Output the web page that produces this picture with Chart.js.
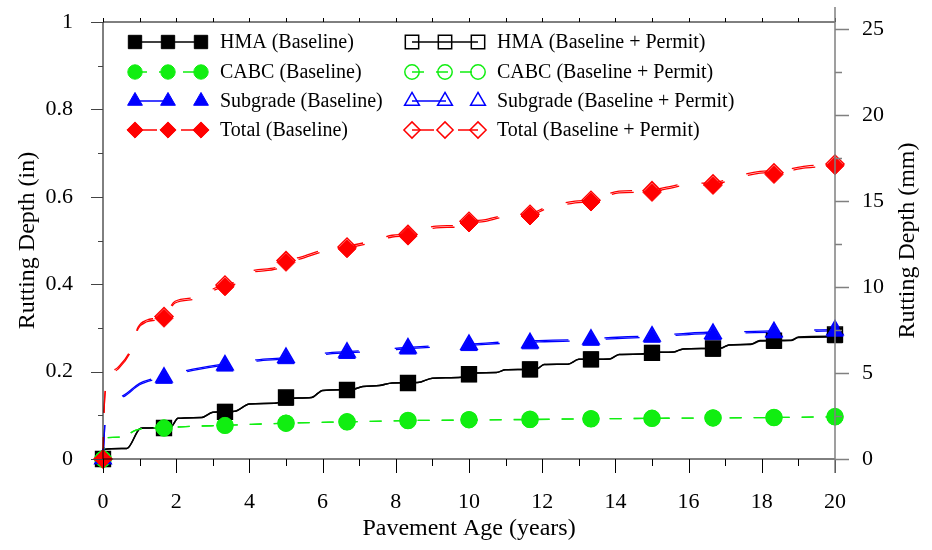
<!DOCTYPE html>
<html>
<head>
<meta charset="utf-8">
<script src="https://cdn.jsdelivr.net/npm/chart.js@4.4.0/dist/chart.umd.min.js"></script>
<style>
  html, body { margin: 0; padding: 0; background: #fff; }
  #wrap { width: 932px; height: 550px; }
</style>
</head>
<body>
<div id="wrap"><canvas id="myChart" width="932" height="550"></canvas></div>
<script>
// marker positions (pavement age, years)
var markerAge = [0, 1.667, 3.333, 5, 6.667, 8.333, 10, 11.667, 13.333, 15, 16.667, 18.333, 20];
var hmaBaseline = [0, 0.071, 0.108, 0.140, 0.158, 0.174, 0.194, 0.205, 0.228, 0.243, 0.252, 0.270, 0.283];
var hmaPermit = [0, 0.071, 0.108, 0.141, 0.158, 0.174, 0.194, 0.205, 0.228, 0.243, 0.253, 0.271, 0.285];
var cabcBaseline = [0, 0.071, 0.077, 0.082, 0.085, 0.088, 0.090, 0.090, 0.092, 0.093, 0.094, 0.095, 0.096];
var cabcPermit = [0, 0.071, 0.077, 0.082, 0.085, 0.088, 0.090, 0.091, 0.092, 0.093, 0.094, 0.095, 0.097];
var subgradeBaseline = [0, 0.184, 0.212, 0.229, 0.241, 0.251, 0.259, 0.263, 0.271, 0.278, 0.284, 0.288, 0.292];
var subgradePermit = [0, 0.187, 0.215, 0.232, 0.244, 0.254, 0.262, 0.266, 0.274, 0.281, 0.287, 0.291, 0.295];
var totalBaseline = [0, 0.322, 0.394, 0.450, 0.481, 0.510, 0.540, 0.556, 0.588, 0.610, 0.626, 0.651, 0.671];
var totalPermit = [0, 0.326, 0.398, 0.454, 0.485, 0.514, 0.544, 0.560, 0.592, 0.614, 0.630, 0.655, 0.675];

// the curves
var hmaAge = [0,0.03,0.65,1.0,1.1,1.85,2.05,2.7,3.0,3.6,4.0,4.75,5.05,5.7,6.0,6.8,7.1,7.55,7.9,8.6,9.0,9.8,10.1,10.75,11.0,11.85,12.05,12.7,13.0,13.85,14.1,14.7,15.0,15.6,15.85,16.9,17.1,17.7,17.95,18.8,19.0,20];
var hmaLineBaseline = [0,0.022,0.024,0.069,0.071,0.073,0.093,0.095,0.107,0.109,0.126,0.128,0.139,0.141,0.157,0.159,0.166,0.168,0.174,0.175,0.185,0.187,0.197,0.198,0.204,0.206,0.216,0.217,0.228,0.229,0.239,0.240,0.244,0.245,0.252,0.254,0.261,0.262,0.270,0.271,0.278,0.279];
var hmaLinePermit = [0,0.022,0.024,0.069,0.071,0.073,0.093,0.095,0.107,0.109,0.126,0.128,0.139,0.141,0.157,0.159,0.166,0.168,0.174,0.175,0.185,0.187,0.197,0.198,0.204,0.206,0.216,0.217,0.228,0.229,0.239,0.240,0.244,0.245,0.252,0.254,0.261,0.263,0.271,0.272,0.279,0.281];

var cabcAge = [0,0.05,0.5,0.9,1.2,1.667,2.5,3.333,5,6.667,8.333,10,11.667,13.333,15,16.667,18.333,20];
var cabcLineBaseline = [0,0.048,0.050,0.066,0.071,0.072,0.075,0.077,0.082,0.085,0.088,0.089,0.090,0.092,0.093,0.094,0.095,0.096];
var cabcLinePermit = [0,0.048,0.050,0.066,0.071,0.072,0.075,0.077,0.082,0.085,0.088,0.089,0.091,0.092,0.093,0.094,0.095,0.097];

var subAge = [0,0.02,0.06,0.55,1.0,1.37,1.667,2.3,3.2,4.2,5.0,6.15,7.07,8.1,9.0,10.0,11.0,11.9,12.8,13.9,14.9,15.85,16.5,17.8,18.7,20];
var subLineBaseline = [0,0.030,0.085,0.142,0.170,0.181,0.186,0.200,0.213,0.224,0.229,0.240,0.245,0.251,0.256,0.260,0.265,0.268,0.270,0.275,0.279,0.284,0.287,0.289,0.291,0.293];
var subLinePermit = [0,0.031,0.087,0.145,0.173,0.184,0.189,0.203,0.216,0.227,0.232,0.243,0.248,0.254,0.259,0.263,0.268,0.271,0.273,0.278,0.282,0.287,0.290,0.292,0.294,0.296];

var totalAge = [0,0.03,0.12,0.4,0.75,0.96,1.2,1.45,1.667,1.97,2.54,3.0,3.333,3.74,4.0,4.75,5.0,5.4,6.0,6.667,7.3,7.9,8.333,9.1,9.75,10.1,10.4,11.0,11.667,12.1,12.9,13.333,14.1,14.9,15.4,16.0,16.667,17.3,17.95,18.55,19.2,20];
var totalLineBaseline = [0,0.110,0.175,0.205,0.245,0.298,0.314,0.318,0.323,0.357,0.366,0.385,0.395,0.405,0.425,0.435,0.450,0.458,0.474,0.483,0.494,0.508,0.511,0.529,0.531,0.541,0.543,0.554,0.557,0.572,0.586,0.589,0.609,0.611,0.618,0.627,0.628,0.643,0.654,0.657,0.666,0.671];
var totalLinePermit = [0,0.112,0.178,0.209,0.249,0.302,0.318,0.322,0.327,0.361,0.370,0.389,0.399,0.409,0.429,0.439,0.454,0.462,0.478,0.487,0.498,0.512,0.515,0.533,0.535,0.545,0.547,0.558,0.561,0.576,0.590,0.593,0.613,0.615,0.622,0.631,0.632,0.647,0.658,0.661,0.670,0.675];

var xTicks = [0, 2, 4, 6, 8, 10, 12, 14, 16, 18, 20];

var FONT = "'Liberation Serif', 'Times New Roman', serif";
var RED = '#ff0000', BLUE = '#0000ff', GREEN = '#11ee11', BLACK = '#000000';

// style per series: [color, pointStyle, radius, dash]
var styles = {
  hma: [BLACK, 'rect', 10.5, []],
  cabc: [GREEN, 'circle', 8, [12, 12]],
  sub: [BLUE, 'triangle', 9.5, [34, 36]],
  total: [RED, 'rectRot', 9, [22, 24]]
};

function pts(xs, ys) {
  return xs.map(function (x, i) { return {x: x, y: ys[i]}; });
}

function lineSet(xs, ys, key, order) {
  var s = styles[key];
  return {
    data: pts(xs, ys), showLine: true, pointRadius: 0, borderColor: s[0],
    borderWidth: key == 'hma' ? 1.5 : 1.3, borderDash: s[3],
    cubicInterpolationMode: 'monotone', clip: false, order: order
  };
}

function markerSet(ys, key, filled, order) {
  var s = styles[key];
  return {
    data: pts(markerAge, ys), showLine: false, pointStyle: s[1], pointRadius: s[2],
    pointBackgroundColor: filled ? s[0] : 'rgba(0,0,0,0)', pointBorderColor: s[0],
    pointBorderWidth: filled ? 1 : 1.5, clip: false, order: order
  };
}

// no extra room for half tick labels, the chart area is set by hand
function noPad(s) {
  s.paddingTop = 0; s.paddingBottom = 0; s.paddingLeft = 0; s.paddingRight = 0;
}

var legendRows = [
  ['HMA (Baseline)', 'hma', true, 0, 0],
  ['CABC (Baseline)', 'cabc', true, 0, 1],
  ['Subgrade (Baseline)', 'sub', true, 0, 2],
  ['Total (Baseline)', 'total', true, 0, 3],
  ['HMA (Baseline + Permit)', 'hma', false, 1, 0],
  ['CABC (Baseline + Permit)', 'cabc', false, 1, 1],
  ['Subgrade (Baseline + Permit)', 'sub', false, 1, 2],
  ['Total (Baseline + Permit)', 'total', false, 1, 3]
];

var drawLegendAndFrame = {
  id: 'legendFrame',
  afterDatasetsDraw: function (chart) {
    var ctx = chart.ctx, a = chart.chartArea;
    var xs = chart.scales.x, ys = chart.scales.y, y2 = chart.scales.y2;
    ctx.save();
    ctx.setLineDash([]);
    ctx.lineWidth = 1;
    // top + bottom + left in black
    ctx.strokeStyle = '#000';
    ctx.beginPath();
    ctx.moveTo(a.left, a.top); ctx.lineTo(a.right, a.top);
    ctx.moveTo(a.left, a.bottom); ctx.lineTo(a.right, a.bottom);
    ctx.moveTo(a.left, a.top); ctx.lineTo(a.left, a.bottom);
    for (var v = 0; v <= 20; v++) {
      var px = Math.round(xs.getPixelForValue(v)) + 0.5;
      ctx.moveTo(px, a.bottom); ctx.lineTo(px, a.bottom + (v % 2 == 0 ? 14 : 7));
      ctx.moveTo(px, a.top); ctx.lineTo(px, a.top - 4);
    }
    ctx.stroke();
    ctx.strokeStyle = '#444';
    ctx.beginPath();
    for (var k = 0; k <= 10; k++) {
      var py = Math.round(ys.getPixelForValue(k / 10)) + 0.5;
      ctx.moveTo(a.left, py); ctx.lineTo(a.left - (k % 2 == 0 ? 12 : 5), py);
    }
    ctx.stroke();
    // right axis in gray
    ctx.strokeStyle = '#808080';
    ctx.lineWidth = 1.5;
    ctx.beginPath();
    ctx.moveTo(a.right, a.top - 15); ctx.lineTo(a.right, a.bottom + 14);
    for (var m = 0; m <= 10; m++) {
      var py2 = Math.round(y2.getPixelForValue(m * 2.5)) + 0.5;
      ctx.moveTo(a.right, py2); ctx.lineTo(a.right + (m % 2 == 0 ? 14 : 7), py2);
    }
    ctx.stroke();

    // right title, reading upward like the left one
    ctx.fillStyle = '#000';
    ctx.font = '24px ' + FONT;
    ctx.textAlign = 'center';
    ctx.textBaseline = 'middle';
    ctx.translate(908, (a.top + a.bottom) / 2);
    ctx.rotate(-Math.PI / 2);
    ctx.fillText('Rutting Depth (mm)', 0, 0);
    ctx.restore();

    // legend
    ctx.save();
    var rowY = [42, 72, 101, 130];
    var colMarks = [[135, 168, 201], [412, 445, 478]];
    var colText = [220, 497];
    legendRows.forEach(function (r) {
      var s = styles[r[1]], mx = colMarks[r[3]], y = rowY[r[4]];
      ctx.strokeStyle = s[0];
      ctx.lineWidth = r[1] == 'hma' ? 1.5 : 1.3;
      ctx.setLineDash(s[3]);
      ctx.beginPath();
      ctx.moveTo(mx[0], y); ctx.lineTo(mx[2], y);
      ctx.stroke();
      ctx.setLineDash([]);
      mx.forEach(function (x) {
        ctx.fillStyle = r[2] ? s[0] : 'rgba(0,0,0,0)';
        ctx.lineWidth = r[2] ? 1 : 1.5;
        Chart.helpers.drawPoint(ctx, {pointStyle: s[1], radius: s[2] * 0.9, rotation: 0, borderWidth: ctx.lineWidth}, x, y);
      });
      ctx.fillStyle = '#000';
      ctx.font = '20px ' + FONT;
      ctx.textAlign = 'left';
      ctx.textBaseline = 'middle';
      ctx.fillText(r[0], colText[r[3]], y + 1);
    });
    ctx.restore();
  }
};

Chart.defaults.font.family = FONT;
Chart.defaults.color = '#000';

var ctx = document.getElementById('myChart').getContext('2d');
var myChart = new Chart(ctx, {
  type: 'scatter',
  data: {
    datasets: [
      lineSet(hmaAge, hmaLinePermit, 'hma', 20),
      lineSet(hmaAge, hmaLineBaseline, 'hma', 19),
      lineSet(cabcAge, cabcLinePermit, 'cabc', 18),
      lineSet(cabcAge, cabcLineBaseline, 'cabc', 17),
      lineSet(subAge, subLinePermit, 'sub', 16),
      lineSet(subAge, subLineBaseline, 'sub', 15),
      lineSet(totalAge, totalLinePermit, 'total', 14),
      lineSet(totalAge, totalLineBaseline, 'total', 13),
      markerSet(hmaPermit, 'hma', false, 8),
      markerSet(cabcPermit, 'cabc', false, 7),
      markerSet(subgradePermit, 'sub', false, 6),
      markerSet(totalPermit, 'total', false, 5),
      markerSet(hmaBaseline, 'hma', true, 4),
      markerSet(cabcBaseline, 'cabc', true, 3),
      markerSet(subgradeBaseline, 'sub', true, 2),
      markerSet(totalBaseline, 'total', true, 1)
    ]
  },
  options: {
    responsive: false,
    animation: false,
    events: [],
    layout: {padding: {top: 22, left: 0, right: 0, bottom: 0}},
    plugins: {legend: {display: false}, tooltip: {enabled: false}},
    scales: {
      x: {
        type: 'linear', min: 0, max: 20,
        afterFit: function (s) { s.height = 91; noPad(s); },
        afterBuildTicks: function (s) { s.ticks = xTicks.map(function (v) { return {value: v}; }); },
        grid: {display: false, drawTicks: false}, border: {display: false},
        ticks: {font: {size: 22}, padding: 30, maxRotation: 0},
        title: {display: true, text: 'Pavement Age (years)', font: {size: 24}, padding: {top: 0, bottom: 7}}
      },
      y: {
        type: 'linear', position: 'left', min: 0, max: 1,
        afterFit: function (s) { s.width = 103; noPad(s); },
        grid: {display: false, drawTicks: false}, border: {display: false},
        ticks: {stepSize: 0.2, font: {size: 22}, padding: 30,
          callback: function (v) { return String(+v.toFixed(1)); }},
        title: {display: true, text: 'Rutting Depth (in)', font: {size: 24}, padding: {top: 13, bottom: 0}}
      },
      y2: {
        type: 'linear', position: 'right', min: 0, max: 25.4,
        afterFit: function (s) { s.width = 97; noPad(s); },
        grid: {display: false, drawTicks: false}, border: {display: false},
        ticks: {stepSize: 5, includeBounds: false, font: {size: 22}, padding: 27,
          callback: function (v) { return String(Math.round(v)); }}
      }
    }
  },
  plugins: [drawLegendAndFrame]
});
</script>
</body>
</html>
